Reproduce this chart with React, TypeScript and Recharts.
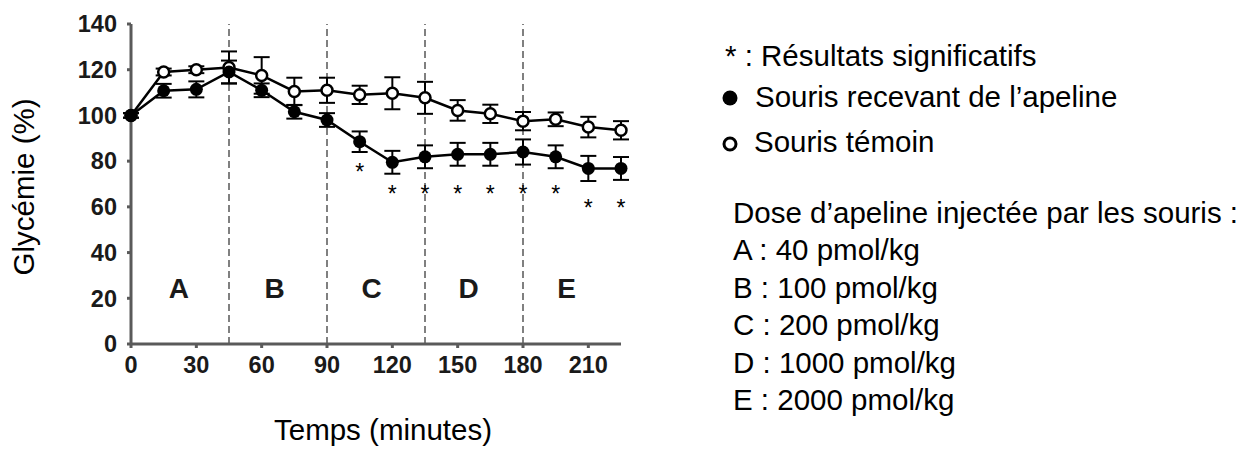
import React from 'react';
import { ComposedChart, Line, Scatter, XAxis, YAxis, ReferenceLine, ErrorBar } from 'recharts';

const minutes = [0, 15, 30, 45, 60, 75, 90, 105, 120, 135, 150, 165, 180, 195, 210, 225];
const apeline = [100, 110.8, 111.4, 119, 111, 101.6, 98, 88.5, 79.5, 81.9, 83, 83, 84, 81.9, 76.8, 76.8];
const apelineErr = [1, 3, 3.5, 5, 3, 3, 3, 4.5, 5, 5, 5, 5, 5.5, 5, 5.5, 5];
const temoin = [100, 119, 120, 121, 117.5, 110.5, 111, 109, 109.7, 107.7, 102.2, 100.7, 97.5, 98.3, 94.9, 93.5];
const temoinErr = [1, 1.5, 1.5, 7, 8, 6, 5.5, 4, 7, 7, 4.5, 4, 4, 3, 4.5, 4];

const starMinutes = [105, 120, 135, 150, 165, 180, 195, 210, 225];
const starLevels = [76.8, 67.4, 67.4, 67.4, 67.4, 67.4, 67.4, 61.2, 61.2];

const phaseLetters = ['A', 'B', 'C', 'D', 'E'];
const phaseCenters = [22, 66, 110.5, 155, 200];
const phaseLevel = 24.5;
const phaseBounds = [45, 90, 135, 180];

const xTicks = [0, 30, 60, 90, 120, 150, 180, 210];
const yTicks = [0, 20, 40, 60, 80, 100, 120, 140];

const doseTitle = 'Dose d’apeline injectée par les souris :';
const doses = ['A : 40 pmol/kg', 'B : 100 pmol/kg', 'C : 200 pmol/kg', 'D : 1000 pmol/kg', 'E : 2000 pmol/kg'];

const rows = minutes.map((t, i) => ({
  t,
  apeline: apeline[i],
  apelineErr: apelineErr[i],
  temoin: temoin[i],
  temoinErr: temoinErr[i],
}));
const stars = starMinutes.map((t, i) => ({ t, y: starLevels[i] }));
const phases = phaseLetters.map((label, i) => ({ t: phaseCenters[i], y: phaseLevel, label }));

const FONT = '"Liberation Sans", Arial, sans-serif';
const AXIS = '#5a5a5a';

const tickStyle = { fill: '#1a1a1a', fontSize: 23.5, fontWeight: 700, fontFamily: FONT };

const OpenDot = (p: any) => (
  <circle cx={p.cx} cy={p.cy} r={5.5} fill="#fff" stroke="#000" strokeWidth={2.5} />
);
const FilledDot = (p: any) => <circle cx={p.cx} cy={p.cy} r={6.5} fill="#000" />;

const Star = (p: any) => (
  <text x={p.cx} y={p.cy + 12} textAnchor="middle" fontSize={23} fontFamily={FONT} fill="#000">
    *
  </text>
);
const Letter = (p: any) => (
  <text x={p.cx} y={p.cy + 10} textAnchor="middle" fontSize={28} fontWeight={700} fontFamily={FONT} fill="#1a1a1a">
    {p.payload.label}
  </text>
);

export default function App() {
  return (
    <div style={{ position: 'absolute', left: 0, top: 0, width: 1260, height: 449, background: '#fff' }}>
      <ComposedChart
        width={660}
        height={449}
        data={rows}
        margin={{ top: 24, right: 39, bottom: 65, left: 71 }}
      >
        {phaseBounds.map((b) => (
          <ReferenceLine key={b} x={b} stroke="#808080" strokeWidth={2} strokeDasharray="7 4" />
        ))}
        <XAxis
          dataKey="t"
          type="number"
          domain={[0, 225]}
          ticks={xTicks}
          height={40}
          stroke={AXIS}
          strokeWidth={3}
          tickSize={4}
          tickMargin={8}
          tick={tickStyle}
          interval={0}
        />
        <YAxis
          type="number"
          domain={[0, 140]}
          ticks={yTicks}
          width={60}
          stroke={AXIS}
          strokeWidth={3}
          tickSize={4}
          tickMargin={10}
          tick={tickStyle}
          interval={0}
        />
        <Line
          dataKey="temoin"
          stroke="#000"
          strokeWidth={2.5}
          dot={<OpenDot />}
          activeDot={false}
          isAnimationActive={false}
        >
          <ErrorBar dataKey="temoinErr" width={8} stroke="#000" strokeWidth={2} direction="y" />
        </Line>
        <Line
          dataKey="apeline"
          stroke="#000"
          strokeWidth={2.5}
          dot={<FilledDot />}
          activeDot={false}
          isAnimationActive={false}
        >
          <ErrorBar dataKey="apelineErr" width={8} stroke="#000" strokeWidth={2} direction="y" />
        </Line>
        <Scatter data={stars} dataKey="y" shape={<Star />} isAnimationActive={false} />
        <Scatter data={phases} dataKey="y" shape={<Letter />} isAnimationActive={false} />
      </ComposedChart>

      <svg
        width={1260}
        height={449}
        style={{ position: 'absolute', left: 0, top: 0, pointerEvents: 'none' }}
        fontFamily={FONT}
        fontSize={29.5}
        fill="#000"
      >
        <text transform="translate(34, 187) rotate(-90)" textAnchor="middle">
          Glycémie (%)
        </text>
        <text x={383} y={440} textAnchor="middle">
          Temps (minutes)
        </text>

        <text x={725} y={66}>* : Résultats significatifs</text>
        <circle cx={730} cy={98} r={7.5} fill="#000" />
        <text x={755} y={107}>Souris recevant de l’apeline</text>
        <circle cx={730} cy={144} r={6} fill="#fff" stroke="#000" strokeWidth={3} />
        <text x={754} y={152}>Souris témoin</text>

        <text x={733} y={223}>{doseTitle}</text>
        {doses.map((d, i) => (
          <text key={d} x={733} y={260 + i * 37.5}>
            {d}
          </text>
        ))}
      </svg>
    </div>
  );
}
